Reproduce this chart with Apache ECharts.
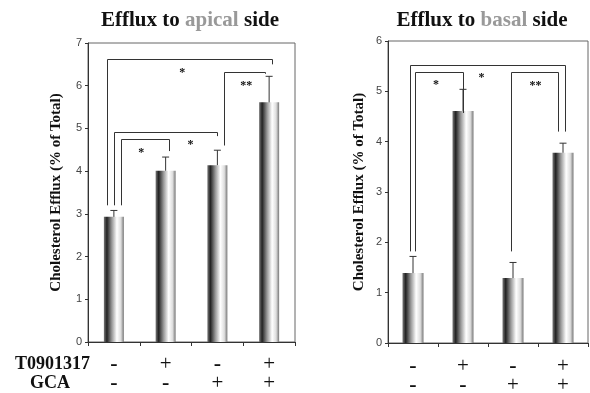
<!DOCTYPE html>
<html>
<head>
<meta charset="utf-8">
<script src="https://cdn.jsdelivr.net/npm/echarts@6/dist/echarts.min.js"></script>
<style>html,body{margin:0;padding:0;background:#fff}#c{width:590px;height:393px}</style>
</head>
<body>
<div id="c"></div>
<script>
// ---- data ----
const categories = ['c1', 'c2', 'c3', 'c4'];
const rowT = ['-', '+', '-', '+'];
const rowG = ['-', '-', '+', '+'];
const rowNames = ['T0901317', 'GCA'];
const yName = 'Cholesterol Efflux (% of Total)';
const apicalValues = [2.93, 4.01, 4.14, 5.61];
const apicalErrTop = [3.08, 4.33, 4.49, 6.22];
const basalValues = [1.39, 4.61, 1.29, 3.78];
const basalErrTop = [1.72, 5.04, 1.60, 3.97];
// brackets: [xLeft, xRight, yTop, yLeftEnd, yRightEnd] (category index units)
const apicalBrackets = [
  [-0.14, 3.06, 6.63, 3.2, 6.5],
  [2.13, 2.92, 6.33, 4.6, 6.28],
  [0.0, 1.99, 4.91, 3.2, 4.82],
  [0.13, 1.06, 4.75, 3.2, 4.47]
];
const apicalStars = [[1.32, 6.37, '*'], [2.56, 6.07, '**'], [1.48, 4.69, '*'], [0.53, 4.5, '*']];
const basalBrackets = [
  [-0.07, 3.03, 5.52, 1.82, 4.2],
  [0.04, 1.0, 5.39, 1.82, 4.57],
  [1.96, 2.9, 5.39, 1.82, 4.2]
];
const basalStars = [[0.46, 5.19, '*'], [1.37, 5.32, '*'], [2.45, 5.16, '**']];

// ---- chart ----
const chart = echarts.init(document.getElementById('c'));
const serif = '"Liberation Serif", "DejaVu Serif", serif';
const barGrad = new echarts.graphic.LinearGradient(0, 0, 1, 0, [
  { offset: 0, color: '#777' },
  { offset: 0.15, color: '#222' },
  { offset: 0.4, color: '#999' },
  { offset: 0.65, color: '#fff' },
  { offset: 0.85, color: '#ddd' },
  { offset: 1, color: '#777' }
]);

function sign(s) { return s === '+' ? '{p|+}' : '{m|-}'; }

function xAxes(gi, margin) {
  return [
    {
      type: 'category', gridIndex: gi, data: categories,
      axisLine: { lineStyle: { color: '#333' } },
      axisTick: { show: true, length: 4, inside: false, lineStyle: { color: '#333' } },
      axisLabel: {
        margin: margin, lineHeight: 19,
        formatter: (v, i) => sign(rowT[i]) + '\n' + sign(rowG[i]),
        rich: {
          m: { fontFamily: serif, fontWeight: 'bold', fontSize: 22, color: '#111', lineHeight: 19 },
          p: { fontFamily: serif, fontWeight: 'normal', fontSize: 21, color: '#111', lineHeight: 19 }
        }
      }
    },
    { type: 'value', gridIndex: gi, min: -0.5, max: 3.5, show: false }
  ];
}
function yAxis(gi, max, gap) {
  return {
    type: 'value', gridIndex: gi, min: 0, max: max, interval: 1,
    name: yName, nameLocation: 'middle', nameRotate: 90, nameGap: gap,
    nameTextStyle: { fontFamily: serif, fontWeight: 'bold', fontSize: 15, color: '#111' },
    splitLine: { show: false },
    axisLine: { show: true, onZero: false, lineStyle: { color: '#333' } },
    axisTick: { show: true, length: 3, lineStyle: { color: '#333' } },
    axisLabel: { fontFamily: '"Liberation Sans", Arial, sans-serif', fontSize: 11, color: '#444', margin: 6 }
  };
}
function bars(gi, vals, w) {
  return {
    type: 'bar', xAxisIndex: gi * 2, yAxisIndex: gi, data: vals, barWidth: w,
    itemStyle: { color: barGrad }, silent: true
  };
}
function errs(gi, vals, tops) {
  return {
    type: 'custom', xAxisIndex: gi * 2 + 1, yAxisIndex: gi, silent: true, z: 5,
    data: vals.map((v, i) => [i, v, tops[i]]),
    renderItem: (params, api) => {
      const b = api.coord([api.value(0), api.value(1)]);
      const t = api.coord([api.value(0), api.value(2)]);
      return {
        type: 'group', children: [
          { type: 'line', shape: { x1: b[0], y1: b[1], x2: t[0], y2: t[1] }, style: { stroke: '#333', lineWidth: 1 } },
          { type: 'line', shape: { x1: t[0] - 3.5, y1: t[1], x2: t[0] + 3.5, y2: t[1] }, style: { stroke: '#333', lineWidth: 1 } }
        ]
      };
    }
  };
}
function brackets(gi, br) {
  return {
    type: 'custom', xAxisIndex: gi * 2 + 1, yAxisIndex: gi, silent: true, z: 6,
    data: br,
    renderItem: (params, api) => {
      const a = api.coord([api.value(0), api.value(3)]);
      const b = api.coord([api.value(0), api.value(2)]);
      const c = api.coord([api.value(1), api.value(2)]);
      const d = api.coord([api.value(1), api.value(4)]);
      return {
        type: 'polyline',
        shape: { points: [[Math.round(a[0]) + 0.5, a[1]], [Math.round(b[0]) + 0.5, Math.round(b[1]) + 0.5], [Math.round(c[0]) + 0.5, Math.round(c[1]) + 0.5], [Math.round(d[0]) + 0.5, d[1]]] },
        style: { stroke: '#333', lineWidth: 1, fill: null }
      };
    }
  };
}
function stars(gi, st) {
  return {
    type: 'custom', xAxisIndex: gi * 2 + 1, yAxisIndex: gi, silent: true, z: 7,
    data: st,
    renderItem: (params, api) => {
      const p = api.coord([api.value(0), api.value(1)]);
      return {
        type: 'text',
        style: {
          text: st[params.dataIndex][2], x: p[0], y: p[1] + 3,
          align: 'center', verticalAlign: 'middle',
          font: 'bold 12px ' + serif, fill: '#111'
        }
      };
    }
  };
}

const titleRich = {
  a: { fontFamily: serif, fontWeight: 'bold', fontSize: 21, color: '#111' },
  g: { fontFamily: serif, fontWeight: 'bold', fontSize: 21, color: '#999' }
};

chart.setOption({
  animation: false,
  title: [
    { text: '{a|Efflux to }{g|apical}{a| side}', left: 190, top: 10, textAlign: 'center', padding: 0, textStyle: { rich: titleRich } },
    { text: '{a|Efflux to }{g|basal}{a| side}', left: 482, top: 10, textAlign: 'center', padding: 0, textStyle: { rich: titleRich } }
  ],
  grid: [
    { left: 88, right: 295, top: 43, bottom: 51, containLabel: false, outerBoundsMode: 'none', show: true, borderColor: '#666', borderWidth: 1, backgroundColor: 'transparent' },
    { left: 388, right: 2, top: 41, bottom: 50, containLabel: false, outerBoundsMode: 'none', show: true, borderColor: '#666', borderWidth: 1, backgroundColor: 'transparent' }
  ],
  xAxis: [...xAxes(0, 13), ...xAxes(1, 14)],
  yAxis: [yAxis(0, 7, 24), yAxis(1, 6, 21)],
  graphic: [
    { type: 'text', right: 500, top: 355, style: { text: rowNames[0], font: 'bold 18px ' + serif, fill: '#111', align: 'right' } },
    { type: 'text', left: 30, top: 374, style: { text: rowNames[1], font: 'bold 18px ' + serif, fill: '#111' } }
  ],
  series: [
    bars(0, apicalValues, 20), errs(0, apicalValues, apicalErrTop), brackets(0, apicalBrackets), stars(0, apicalStars),
    bars(1, basalValues, 21), errs(1, basalValues, basalErrTop), brackets(1, basalBrackets), stars(1, basalStars)
  ]
});
</script>
</body>
</html>
